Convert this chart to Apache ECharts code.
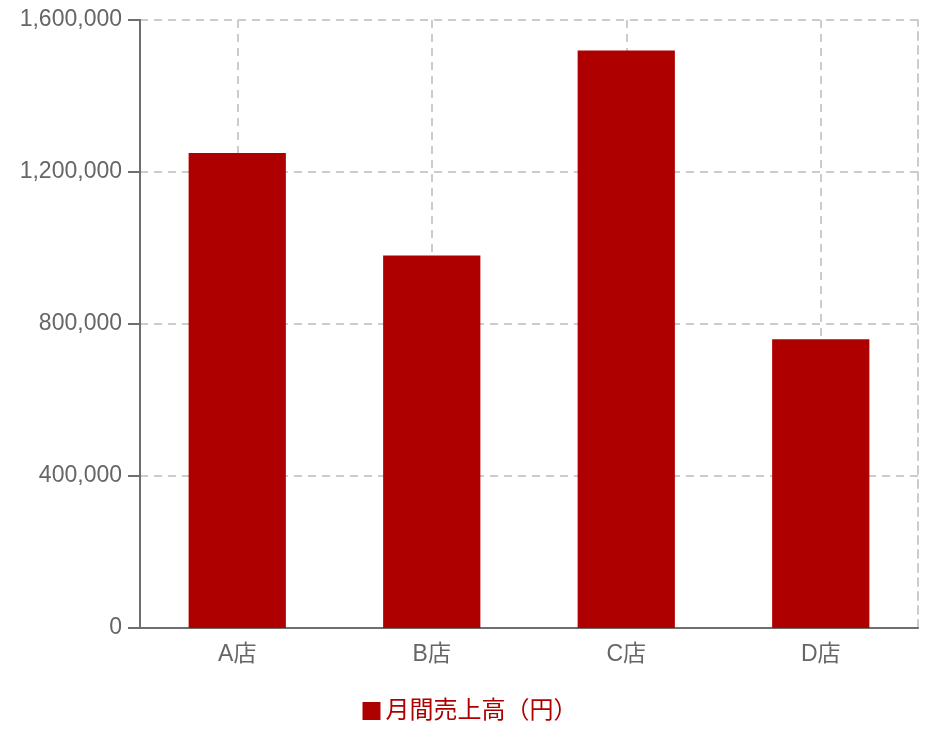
<!DOCTYPE html>
<html>
<head>
<meta charset="utf-8">
<script src="https://cdn.jsdelivr.net/npm/echarts@6/dist/echarts.min.js"></script>
<style>html,body{margin:0;padding:0;background:#fff}#c{width:940px;height:752px}</style>
</head>
<body>
<div id="c"></div>
<script>
const categories = ['A店', 'B店', 'C店', 'D店'];
const salesValues = [1250000, 980000, 1520000, 760000];
const seriesName = '月間売上高（円）';

const chart = echarts.init(document.getElementById('c'), null, {renderer: 'canvas'});
const axisColor = '#6e6e6e';
const labelColor = '#666666';
const font = '"Liberation Sans", Arial, "Noto Sans CJK JP", sans-serif';
chart.setOption({
  animation: false,
  textStyle: {fontFamily: font},
  grid: {left: 140, right: 22, top: 20, bottom: 124, containLabel: false},
  legend: {
    bottom: 24, left: 'center',
    itemWidth: 18, itemHeight: 18, itemGap: 10,
    icon: 'rect',
    textStyle: {color: '#af0000', fontSize: 24, fontFamily: font},
    data: [seriesName]
  },
  xAxis: {
    type: 'category',
    data: categories,
    axisLine: {lineStyle: {color: axisColor, width: 2}},
    axisTick: {alignWithLabel: true, length: 12, lineStyle: {color: axisColor, width: 2}},
    axisLabel: {color: labelColor, fontSize: 23, margin: 15},
    splitLine: {show: true, alignWithLabel: true, lineStyle: {color: '#cccccc', type: [8, 6], width: 2}}
  },
  yAxis: [{
    type: 'value',
    min: 0, max: 1600000, interval: 400000,
    axisLine: {show: true, lineStyle: {color: axisColor, width: 2}},
    axisTick: {show: true, length: 12, lineStyle: {color: axisColor, width: 2}},
    axisLabel: {color: labelColor, fontSize: 23, margin: 18, padding: [4, 0, 0, 0],
      formatter: v => v.toLocaleString('en-US')},
    splitLine: {show: true, lineStyle: {color: '#cccccc', type: [8, 6], width: 2}}
  }, {
    type: 'value', position: 'right',
    min: 0, max: 1600000, interval: 400000,
    axisLine: {show: true, lineStyle: {color: '#cccccc', type: [8, 6], width: 2}},
    axisTick: {show: false}, axisLabel: {show: false}, splitLine: {show: false}
  }],
  series: [{
    name: seriesName,
    type: 'bar',
    data: salesValues,
    barWidth: '50%',
    itemStyle: {color: '#af0000'}
  }]
});
</script>
</body>
</html>
